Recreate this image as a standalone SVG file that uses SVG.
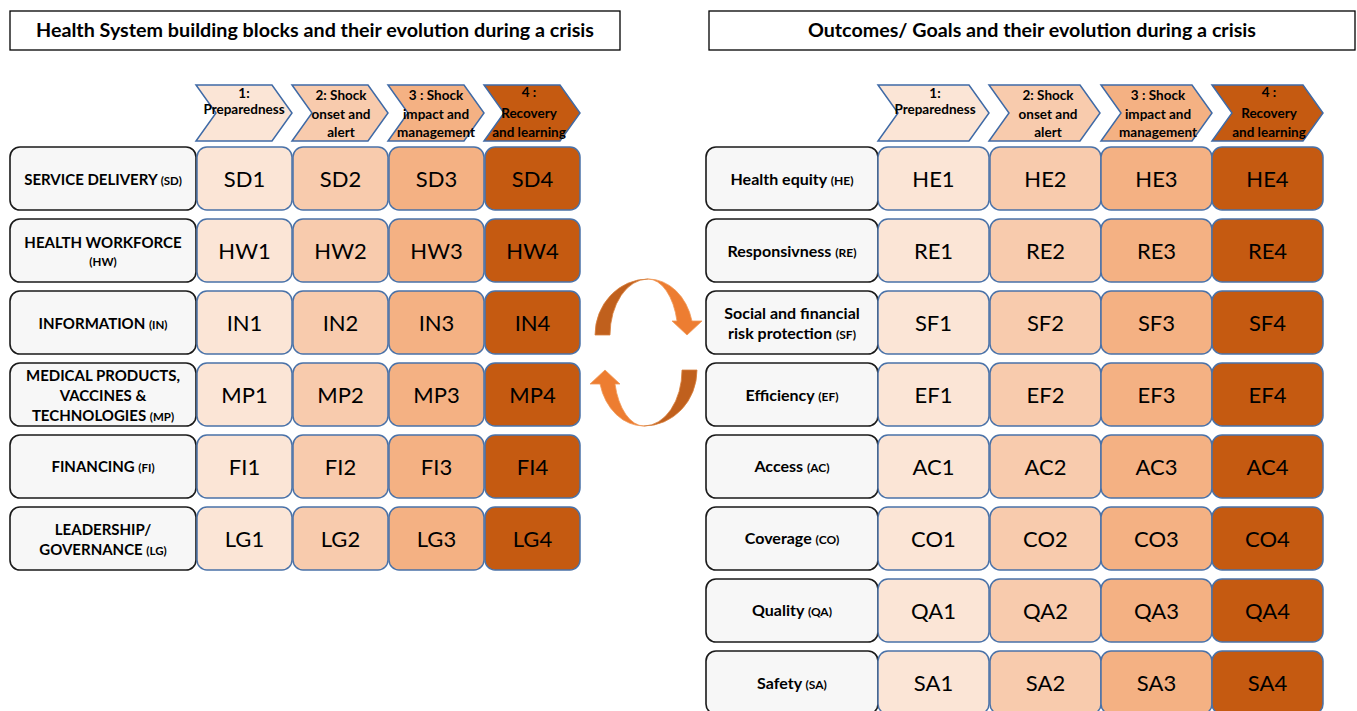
<svg xmlns="http://www.w3.org/2000/svg" width="1357" height="711" viewBox="0 0 1357 711">
<style>
text{font-family:Lato,"Liberation Sans",sans-serif;fill:#000;text-anchor:middle}
.title{font-size:18.5px;font-weight:bold}
.ttl{fill:#fff;stroke:#000;stroke-width:1.3}
.lab{fill:#f7f7f7;stroke:#1a1a1a;stroke-width:1.6}
.lt{font-size:15px;font-weight:bold}
.rt{font-size:16px;font-weight:bold}
.ab{font-size:11.5px}
.rab{font-size:12px}
.cell{stroke:#4a72a8;stroke-width:1.5}
.ct{font-size:22px}
.chev{stroke:#3f6aa6;stroke-width:1.5}
.cht{font-size:13.5px;font-weight:bold}
.c1{fill:#fbe5d6}.c2{fill:#f8cbad}.c3{fill:#f4b183}.c4{fill:#c55a11}
.al{fill:#ed7d31;stroke:#f09a5a;stroke-width:0.8}
.ad{fill:#c0601d;stroke:#d9823f;stroke-width:0.8}
</style>
<rect width="1357" height="711" fill="#fff"/>
<g id="title-left"><rect class="ttl" x="10" y="11" width="610" height="39"/><text class="title" x="315" y="37" textLength="558" lengthAdjust="spacingAndGlyphs">Health System building blocks and their evolution during a crisis</text></g>
<g id="title-right"><rect class="ttl" x="709" y="11" width="646" height="39"/><text class="title" x="1032" y="37" textLength="448" lengthAdjust="spacingAndGlyphs">Outcomes/ Goals and their evolution during a crisis</text></g>

<g id="phases-left">
<polygon class="chev c1" points="196,85 272,85 292,113 272,141 196,141 216,113"/>
<polygon class="chev c2" points="292,85 368,85 388,113 368,141 292,141 312,113"/>
<polygon class="chev c3" points="388,85 464,85 484,113 464,141 388,141 408,113"/>
<polygon class="chev c4" points="484,85 560,85 580,113 560,141 484,141 504,113"/>
<text class="cht" x="244" y="98">1:</text><text class="cht" x="244" y="114">Preparedness</text>
<text class="cht" x="341" y="100">2: Shock</text><text class="cht" x="341" y="119">onset and</text><text class="cht" x="341" y="137">alert</text>
<text class="cht" x="436" y="100">3 : Shock</text><text class="cht" x="436" y="119">impact and</text><text class="cht" x="436" y="137">management</text>
<text class="cht" x="529" y="97">4 :</text><text class="cht" x="529" y="118">Recovery</text><text class="cht" x="529" y="137">and learning</text>
</g>

<g id="phases-right">
<polygon class="chev c1" points="878,85 969,85 989,113 969,141 878,141 898,113"/>
<polygon class="chev c2" points="989,85 1080,85 1100,113 1080,141 989,141 1009,113"/>
<polygon class="chev c3" points="1101,85 1192,85 1212,113 1192,141 1101,141 1121,113"/>
<polygon class="chev c4" points="1212,85 1303,85 1323,113 1303,141 1212,141 1232,113"/>
<text class="cht" x="935" y="98">1:</text><text class="cht" x="935" y="114">Preparedness</text>
<text class="cht" x="1048" y="100">2: Shock</text><text class="cht" x="1048" y="119">onset and</text><text class="cht" x="1048" y="137">alert</text>
<text class="cht" x="1158" y="100">3 : Shock</text><text class="cht" x="1158" y="119">impact and</text><text class="cht" x="1158" y="137">management</text>
<text class="cht" x="1269" y="97">4 :</text><text class="cht" x="1269" y="118">Recovery</text><text class="cht" x="1269" y="137">and learning</text>
</g>

<g id="row-SD">
<rect class="lab" x="10" y="147" width="186" height="63" rx="10"/>
<text class="lt" x="103" y="185">SERVICE DELIVERY <tspan class="ab">(SD)</tspan></text>
<rect class="cell c1" x="197" y="147" width="95" height="63" rx="10"/><text class="ct" x="244.5" y="187">SD1</text>
<rect class="cell c2" x="293" y="147" width="95" height="63" rx="10"/><text class="ct" x="340.5" y="187">SD2</text>
<rect class="cell c3" x="389" y="147" width="95" height="63" rx="10"/><text class="ct" x="436.5" y="187">SD3</text>
<rect class="cell c4" x="485" y="147" width="95" height="63" rx="10"/><text class="ct" x="532.5" y="187">SD4</text>
</g>
<g id="row-HW">
<rect class="lab" x="10" y="219" width="186" height="63" rx="10"/>
<text class="lt" x="103" y="248">HEALTH WORKFORCE</text><text class="lt ab" x="103" y="266">(HW)</text>
<rect class="cell c1" x="197" y="219" width="95" height="63" rx="10"/><text class="ct" x="244.5" y="259">HW1</text>
<rect class="cell c2" x="293" y="219" width="95" height="63" rx="10"/><text class="ct" x="340.5" y="259">HW2</text>
<rect class="cell c3" x="389" y="219" width="95" height="63" rx="10"/><text class="ct" x="436.5" y="259">HW3</text>
<rect class="cell c4" x="485" y="219" width="95" height="63" rx="10"/><text class="ct" x="532.5" y="259">HW4</text>
</g>
<g id="row-IN">
<rect class="lab" x="10" y="291" width="186" height="63" rx="10"/>
<text class="lt" x="103" y="329">INFORMATION <tspan class="ab">(IN)</tspan></text>
<rect class="cell c1" x="197" y="291" width="95" height="63" rx="10"/><text class="ct" x="244.5" y="331">IN1</text>
<rect class="cell c2" x="293" y="291" width="95" height="63" rx="10"/><text class="ct" x="340.5" y="331">IN2</text>
<rect class="cell c3" x="389" y="291" width="95" height="63" rx="10"/><text class="ct" x="436.5" y="331">IN3</text>
<rect class="cell c4" x="485" y="291" width="95" height="63" rx="10"/><text class="ct" x="532.5" y="331">IN4</text>
</g>
<g id="row-MP">
<rect class="lab" x="10" y="363" width="186" height="63" rx="10"/>
<text class="lt" x="103" y="381">MEDICAL PRODUCTS,</text><text class="lt" x="103" y="401">VACCINES &amp;</text><text class="lt" x="103" y="421">TECHNOLOGIES <tspan class="ab">(MP)</tspan></text>
<rect class="cell c1" x="197" y="363" width="95" height="63" rx="10"/><text class="ct" x="244.5" y="403">MP1</text>
<rect class="cell c2" x="293" y="363" width="95" height="63" rx="10"/><text class="ct" x="340.5" y="403">MP2</text>
<rect class="cell c3" x="389" y="363" width="95" height="63" rx="10"/><text class="ct" x="436.5" y="403">MP3</text>
<rect class="cell c4" x="485" y="363" width="95" height="63" rx="10"/><text class="ct" x="532.5" y="403">MP4</text>
</g>
<g id="row-FI">
<rect class="lab" x="10" y="435" width="186" height="63" rx="10"/>
<text class="lt" x="103" y="472">FINANCING <tspan class="ab">(FI)</tspan></text>
<rect class="cell c1" x="197" y="435" width="95" height="63" rx="10"/><text class="ct" x="244.5" y="475">FI1</text>
<rect class="cell c2" x="293" y="435" width="95" height="63" rx="10"/><text class="ct" x="340.5" y="475">FI2</text>
<rect class="cell c3" x="389" y="435" width="95" height="63" rx="10"/><text class="ct" x="436.5" y="475">FI3</text>
<rect class="cell c4" x="485" y="435" width="95" height="63" rx="10"/><text class="ct" x="532.5" y="475">FI4</text>
</g>
<g id="row-LG">
<rect class="lab" x="10" y="507" width="186" height="63" rx="10"/>
<text class="lt" x="103" y="535">LEADERSHIP/</text><text class="lt" x="103" y="555">GOVERNANCE <tspan class="ab">(LG)</tspan></text>
<rect class="cell c1" x="197" y="507" width="95" height="63" rx="10"/><text class="ct" x="244.5" y="547">LG1</text>
<rect class="cell c2" x="293" y="507" width="95" height="63" rx="10"/><text class="ct" x="340.5" y="547">LG2</text>
<rect class="cell c3" x="389" y="507" width="95" height="63" rx="10"/><text class="ct" x="436.5" y="547">LG3</text>
<rect class="cell c4" x="485" y="507" width="95" height="63" rx="10"/><text class="ct" x="532.5" y="547">LG4</text>
</g>

<g id="row-HE">
<rect class="lab" x="706" y="147" width="172" height="63" rx="10"/>
<text class="rt" x="792" y="185">Health equity <tspan class="rab">(HE)</tspan></text>
<rect class="cell c1" x="878" y="147" width="111" height="63" rx="10"/><text class="ct" x="933.5" y="187">HE1</text>
<rect class="cell c2" x="990" y="147" width="111" height="63" rx="10"/><text class="ct" x="1045.5" y="187">HE2</text>
<rect class="cell c3" x="1101" y="147" width="111" height="63" rx="10"/><text class="ct" x="1156.5" y="187">HE3</text>
<rect class="cell c4" x="1212" y="147" width="111" height="63" rx="10"/><text class="ct" x="1267.5" y="187">HE4</text>
</g>
<g id="row-RE">
<rect class="lab" x="706" y="219" width="172" height="63" rx="10"/>
<text class="rt" x="792" y="257">Responsivness <tspan class="rab">(RE)</tspan></text>
<rect class="cell c1" x="878" y="219" width="111" height="63" rx="10"/><text class="ct" x="933.5" y="259">RE1</text>
<rect class="cell c2" x="990" y="219" width="111" height="63" rx="10"/><text class="ct" x="1045.5" y="259">RE2</text>
<rect class="cell c3" x="1101" y="219" width="111" height="63" rx="10"/><text class="ct" x="1156.5" y="259">RE3</text>
<rect class="cell c4" x="1212" y="219" width="111" height="63" rx="10"/><text class="ct" x="1267.5" y="259">RE4</text>
</g>
<g id="row-SF">
<rect class="lab" x="706" y="291" width="172" height="63" rx="10"/>
<text class="rt" x="792" y="319">Social and financial</text><text class="rt" x="792" y="339">risk protection <tspan class="rab">(SF)</tspan></text>
<rect class="cell c1" x="878" y="291" width="111" height="63" rx="10"/><text class="ct" x="933.5" y="331">SF1</text>
<rect class="cell c2" x="990" y="291" width="111" height="63" rx="10"/><text class="ct" x="1045.5" y="331">SF2</text>
<rect class="cell c3" x="1101" y="291" width="111" height="63" rx="10"/><text class="ct" x="1156.5" y="331">SF3</text>
<rect class="cell c4" x="1212" y="291" width="111" height="63" rx="10"/><text class="ct" x="1267.5" y="331">SF4</text>
</g>
<g id="row-EF">
<rect class="lab" x="706" y="363" width="172" height="63" rx="10"/>
<text class="rt" x="792" y="401">Efficiency <tspan class="rab">(EF)</tspan></text>
<rect class="cell c1" x="878" y="363" width="111" height="63" rx="10"/><text class="ct" x="933.5" y="403">EF1</text>
<rect class="cell c2" x="990" y="363" width="111" height="63" rx="10"/><text class="ct" x="1045.5" y="403">EF2</text>
<rect class="cell c3" x="1101" y="363" width="111" height="63" rx="10"/><text class="ct" x="1156.5" y="403">EF3</text>
<rect class="cell c4" x="1212" y="363" width="111" height="63" rx="10"/><text class="ct" x="1267.5" y="403">EF4</text>
</g>
<g id="row-AC">
<rect class="lab" x="706" y="435" width="172" height="63" rx="10"/>
<text class="rt" x="792" y="472">Access <tspan class="rab">(AC)</tspan></text>
<rect class="cell c1" x="878" y="435" width="111" height="63" rx="10"/><text class="ct" x="933.5" y="475">AC1</text>
<rect class="cell c2" x="990" y="435" width="111" height="63" rx="10"/><text class="ct" x="1045.5" y="475">AC2</text>
<rect class="cell c3" x="1101" y="435" width="111" height="63" rx="10"/><text class="ct" x="1156.5" y="475">AC3</text>
<rect class="cell c4" x="1212" y="435" width="111" height="63" rx="10"/><text class="ct" x="1267.5" y="475">AC4</text>
</g>
<g id="row-CO">
<rect class="lab" x="706" y="507" width="172" height="63" rx="10"/>
<text class="rt" x="792" y="544">Coverage <tspan class="rab">(CO)</tspan></text>
<rect class="cell c1" x="878" y="507" width="111" height="63" rx="10"/><text class="ct" x="933.5" y="547">CO1</text>
<rect class="cell c2" x="990" y="507" width="111" height="63" rx="10"/><text class="ct" x="1045.5" y="547">CO2</text>
<rect class="cell c3" x="1101" y="507" width="111" height="63" rx="10"/><text class="ct" x="1156.5" y="547">CO3</text>
<rect class="cell c4" x="1212" y="507" width="111" height="63" rx="10"/><text class="ct" x="1267.5" y="547">CO4</text>
</g>
<g id="row-QA">
<rect class="lab" x="706" y="579" width="172" height="63" rx="10"/>
<text class="rt" x="792" y="616">Quality <tspan class="rab">(QA)</tspan></text>
<rect class="cell c1" x="878" y="579" width="111" height="63" rx="10"/><text class="ct" x="933.5" y="619">QA1</text>
<rect class="cell c2" x="990" y="579" width="111" height="63" rx="10"/><text class="ct" x="1045.5" y="619">QA2</text>
<rect class="cell c3" x="1101" y="579" width="111" height="63" rx="10"/><text class="ct" x="1156.5" y="619">QA3</text>
<rect class="cell c4" x="1212" y="579" width="111" height="63" rx="10"/><text class="ct" x="1267.5" y="619">QA4</text>
</g>
<g id="row-SA">
<rect class="lab" x="706" y="651" width="172" height="63" rx="10"/>
<text class="rt" x="792" y="689">Safety <tspan class="rab">(SA)</tspan></text>
<rect class="cell c1" x="878" y="651" width="111" height="63" rx="10"/><text class="ct" x="933.5" y="691">SA1</text>
<rect class="cell c2" x="990" y="651" width="111" height="63" rx="10"/><text class="ct" x="1045.5" y="691">SA2</text>
<rect class="cell c3" x="1101" y="651" width="111" height="63" rx="10"/><text class="ct" x="1156.5" y="691">SA3</text>
<rect class="cell c4" x="1212" y="651" width="111" height="63" rx="10"/><text class="ct" x="1267.5" y="691">SA4</text>
</g>

<g id="connectors">
<g id="arrow-top">
<path class="ad" d="M595,335 A53,56 0 0 1 648,279 A38,56 0 0 0 610,335 Z"/>
<path class="al" d="M648,279 A45,56 0 0 1 692,321 L702,321 L687,335 L672,321 L677,321 A30,56 0 0 0 648,279 Z"/>
</g>
<g id="arrow-bottom" transform="rotate(180 646 352.5)">
<path class="ad" d="M595,335 A53,56 0 0 1 648,279 A38,56 0 0 0 610,335 Z"/>
<path class="al" d="M648,279 A45,56 0 0 1 692,321 L702,321 L687,335 L672,321 L677,321 A30,56 0 0 0 648,279 Z"/>
</g>
</g>
</svg>
